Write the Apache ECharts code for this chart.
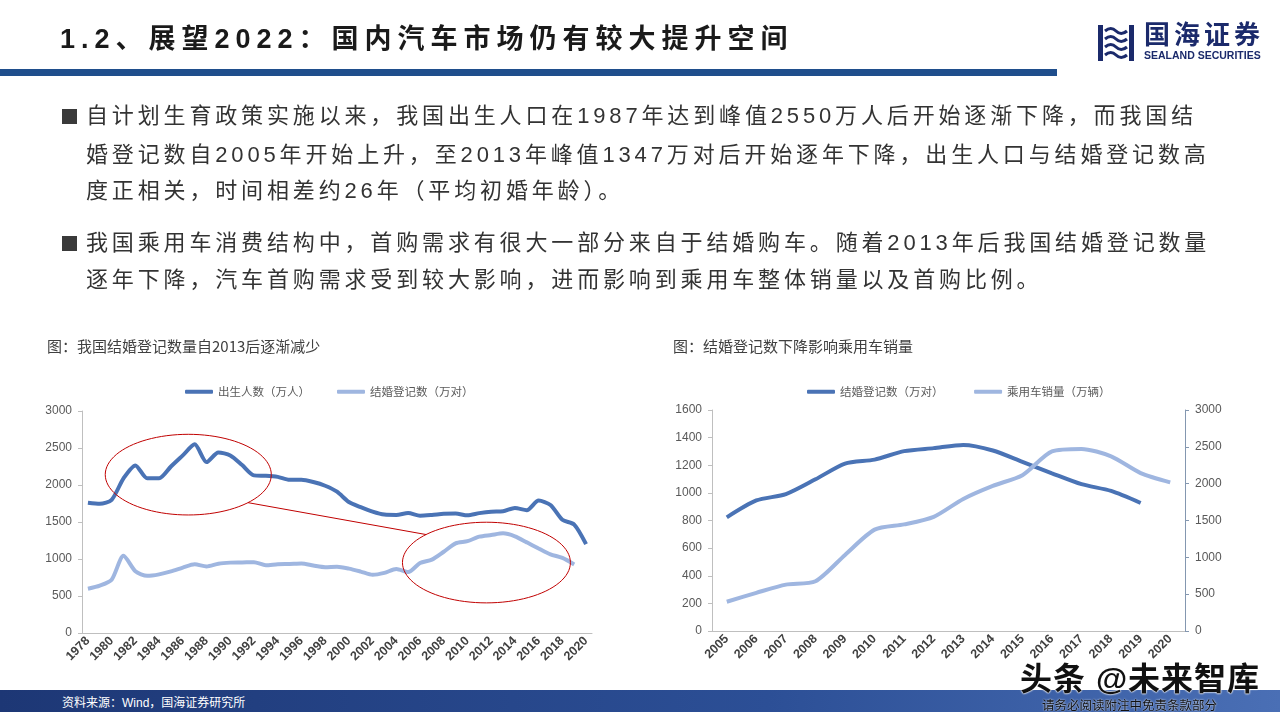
<!DOCTYPE html>
<html><head><meta charset="utf-8">
<script src="https://cdn.jsdelivr.net/npm/echarts@6/dist/echarts.min.js"></script>
<style>
html,body{margin:0;padding:0;width:1280px;height:720px;overflow:hidden;background:#fff;font-family:"Liberation Sans","Noto Sans CJK SC",sans-serif;}
#chart{position:absolute;left:0;top:0;width:1280px;height:720px;}
.abs{position:absolute;white-space:nowrap;}
.title{left:60px;top:26px;font-size:27px;line-height:27px;font-weight:bold;letter-spacing:6px;color:#1a1a1a;}
.bar{left:0;top:69px;width:1057px;height:7px;background:#1f4e8c;}
.bl{font-size:22px;line-height:22px;color:#333;letter-spacing:3.85px;left:86px;}
.sq{left:62px;width:15px;height:15px;background:#3a3a3a;}
.foot{left:0;top:690px;width:1280px;height:22px;background:linear-gradient(to right,#1d3775,#2c4f96 60%,#4a6fb5);}
.src{left:62px;top:697px;font-size:12px;line-height:12px;color:#fff;}
.wm{left:1020px;top:663px;font-size:32px;line-height:32px;font-weight:bold;letter-spacing:1px;color:#111;text-shadow:0 0 2px #fff,0 0 2px #fff,0 0 1px #fff;}
.wm2{left:1042px;top:700px;font-size:12.5px;line-height:13px;color:#111;text-shadow:0 0 2px #fff;}
.logo1{left:1144px;top:21px;font-size:26px;line-height:28px;font-weight:bold;color:#1b2a6b;letter-spacing:4px;}
.logo2{left:1144px;top:50px;font-size:10.5px;line-height:11px;font-weight:bold;color:#1b2a6b;}
</style></head><body>
<div id="chart"></div>
<div class="abs title">1.2、展望2022：国内汽车市场仍有较大提升空间</div>
<div class="abs bar"></div>
<svg class="abs" style="left:1096px;top:23px" width="40" height="40" viewBox="0 0 40 40">
  <rect x="2" y="2" width="5" height="36" fill="#1b2a6b"/>
  <rect x="33" y="2" width="5" height="36" fill="#1b2a6b"/>
  <path d="M9 8 Q15 3 20 8 T31 8" stroke="#1b2a6b" stroke-width="3" fill="none"/>
  <path d="M9 16 Q15 11 20 16 T31 16" stroke="#1b2a6b" stroke-width="3" fill="none"/>
  <path d="M9 24 Q15 19 20 24 T31 24" stroke="#1b2a6b" stroke-width="3" fill="none"/>
  <path d="M9 32 Q15 27 20 32 T31 32" stroke="#1b2a6b" stroke-width="3" fill="none"/>
</svg>
<div class="abs logo1">国海证券</div>
<div class="abs logo2">SEALAND SECURITIES</div>

<div class="abs sq" style="top:109px"></div>
<div class="abs bl" style="top:105px">自计划生育政策实施以来，我国出生人口在1987年达到峰值2550万人后开始逐渐下降，而我国结</div>
<div class="abs bl" style="top:144px">婚登记数自2005年开始上升，至2013年峰值1347万对后开始逐年下降，出生人口与结婚登记数高</div>
<div class="abs bl" style="top:180px">度正相关，时间相差约26年（平均初婚年龄）。</div>
<div class="abs sq" style="top:236px"></div>
<div class="abs bl" style="top:232px">我国乘用车消费结构中，首购需求有很大一部分来自于结婚购车。随着2013年后我国结婚登记数量</div>
<div class="abs bl" style="top:269px">逐年下降，汽车首购需求受到较大影响，进而影响到乘用车整体销量以及首购比例。</div>

<div class="abs foot"></div>
<div class="abs src">资料来源：Wind，国海证券研究所</div>
<div class="abs wm">头条 @未来智库</div>
<div class="abs wm2">请务必阅读附注中免责条款部分</div>

<script>
// ---- data ----
const years1 = ['1978','1979','1980','1981','1982','1983','1984','1985','1986','1987','1988','1989','1990','1991','1992','1993','1994','1995','1996','1997','1998','1999','2000','2001','2002','2003','2004','2005','2006','2007','2008','2009','2010','2011','2012','2013','2014','2015','2016','2017','2018','2019','2020'];
const births = [1760,1745,1800,2090,2265,2090,2090,2250,2400,2550,2310,2440,2400,2270,2130,2125,2110,2070,2070,2040,1990,1910,1770,1700,1640,1600,1595,1620,1585,1595,1610,1615,1590,1620,1640,1645,1690,1660,1790,1730,1530,1465,1200];
const marriages = [598,640,720,1043,835,772,792,832,884,928,900,937,951,953,957,915,929,932,938,912,890,895,870,830,786,812,865,823,945,991,1098,1212,1241,1302,1324,1347,1307,1225,1142,1063,1014,927];
const years2 = ['2005','2006','2007','2008','2009','2010','2011','2012','2013','2014','2015','2016','2017','2018','2019','2020'];
const marriages2 = [823,945,991,1098,1212,1241,1302,1324,1347,1307,1225,1142,1063,1014,927];
const carSales = [397,518,630,676,1033,1376,1447,1550,1793,1970,2115,2438,2472,2371,2144,2018];
const leftTicks = {min:0,max:3000,interval:500};
const rTicksL = {min:0,max:1600,interval:200};
const rTicksR = {min:0,max:3000,interval:500};

const DARK = '#4a73b5', LIGHT = '#9fb6e0';
const labelFont = {fontSize:12,color:'#595959',fontFamily:'Liberation Sans',formatter:v=>String(v)};
const xLab = {fontSize:12.5,fontWeight:'bold',color:'#404040',fontFamily:'Liberation Sans',rotate:45,margin:6};

const chart = echarts.init(document.getElementById('chart'), null, {renderer:'canvas'});
const option = {
  animation:false,
  title:[
    {text:'图：我国结婚登记数量自2013后逐渐减少',left:42,top:334,textStyle:{fontSize:15,fontWeight:'normal',color:'#404040',fontFamily:'Noto Sans CJK SC'}},
    {text:'图：结婚登记数下降影响乘用车销量',left:668,top:334,textStyle:{fontSize:15,fontWeight:'normal',color:'#404040',fontFamily:'Noto Sans CJK SC'}}
  ],
  legend:[
    {left:180,top:381,icon:'roundRect',itemWidth:28,itemHeight:4,itemGap:27,textStyle:{fontSize:11.5,color:'#595959',fontFamily:'Noto Sans CJK SC'},
     data:[{name:'出生人数（万人）',itemStyle:{color:DARK}},{name:'结婚登记数（万对）',itemStyle:{color:LIGHT}}]},
    {left:802,top:381,icon:'roundRect',itemWidth:28,itemHeight:4,itemGap:28,textStyle:{fontSize:11.5,color:'#595959',fontFamily:'Noto Sans CJK SC'},
     data:[{name:'结婚登记数（万对） ',itemStyle:{color:DARK}},{name:'乘用车销量（万辆）',itemStyle:{color:LIGHT}}]}
  ],
  grid:[
    {left:82,right:688,top:411,bottom:87,containLabel:false},
    {left:712,right:95,top:410,bottom:89,containLabel:false}
  ],
  xAxis:[
    {type:'category',gridIndex:0,data:years1,boundaryGap:true,
     axisLine:{lineStyle:{color:'#bfbfbf'}},axisTick:{interval:1,lineStyle:{color:'#bfbfbf'},length:4},
     axisLabel:Object.assign({interval:1},xLab)},
    {type:'category',gridIndex:1,data:years2,boundaryGap:true,
     axisLine:{lineStyle:{color:'#bfbfbf'}},axisTick:{interval:0,lineStyle:{color:'#bfbfbf'},length:4},
     axisLabel:Object.assign({interval:0},xLab)}
  ],
  yAxis:[
    Object.assign({type:'value',gridIndex:0,axisLine:{show:true,lineStyle:{color:'#bfbfbf'}},axisTick:{show:true,length:4,lineStyle:{color:'#bfbfbf'}},splitLine:{show:false},axisLabel:Object.assign({margin:10},labelFont)},leftTicks),
    Object.assign({type:'value',gridIndex:1,position:'left',axisLine:{show:true,lineStyle:{color:'#bfbfbf'}},axisTick:{show:true,length:4,lineStyle:{color:'#bfbfbf'}},splitLine:{show:false},axisLabel:Object.assign({margin:10},labelFont)},rTicksL),
    Object.assign({type:'value',gridIndex:1,position:'right',axisLine:{show:true,lineStyle:{color:'#8497b0'}},axisTick:{show:true,length:4,lineStyle:{color:'#8497b0'}},splitLine:{show:false},axisLabel:Object.assign({margin:10},labelFont)},rTicksR)
  ],
  series:[
    {name:'出生人数（万人）',type:'line',xAxisIndex:0,yAxisIndex:0,data:births,smooth:0.25,symbol:'none',lineStyle:{width:4,color:DARK},itemStyle:{color:DARK}},
    {name:'结婚登记数（万对）',type:'line',xAxisIndex:0,yAxisIndex:0,data:marriages,smooth:0.25,symbol:'none',lineStyle:{width:4,color:LIGHT},itemStyle:{color:LIGHT}},
    {name:'结婚登记数（万对） ',type:'line',xAxisIndex:1,yAxisIndex:1,data:marriages2,smooth:0.25,symbol:'none',lineStyle:{width:4,color:DARK},itemStyle:{color:DARK}},
    {name:'乘用车销量（万辆）',type:'line',xAxisIndex:1,yAxisIndex:2,data:carSales,smooth:0.25,symbol:'none',lineStyle:{width:4,color:LIGHT},itemStyle:{color:LIGHT}}
  ]
};
chart.setOption(option);

// ---- annotation ellipses placed through the axis scales ----
function P(cat,val){ return chart.convertToPixel({gridIndex:0},[cat,val]); }
const p0 = P(0,0), p1 = P(1,0);
const step = p1[0]-p0[0];
function ell(catC,valC,catR,valR){
  const c = P(0,valC); const cx = p0[0]+step*catC, cy = c[1];
  const rx = step*catR, ry = p0[1]-P(0,valR)[1];
  return {cx,cy,rx,ry};
}
const e1 = ell(8.46,2140,7.0,545);
const e2 = ell(33.6,952,7.08,545);
function ring(e){ const pts=[]; for(let k=0;k<96;k++){const a=k/96*Math.PI*2; pts.push([e.cx+e.rx*Math.cos(a), e.cy+e.ry*Math.sin(a)]);} return pts; }
const a1 = 44*Math.PI/180, a2 = 224*Math.PI/180;
chart.setOption({graphic:[
  {type:'polygon',shape:{points:ring(e1)},style:{fill:'none',stroke:'#c00000',lineWidth:1},z:10},
  {type:'polygon',shape:{points:ring(e2)},style:{fill:'none',stroke:'#c00000',lineWidth:1},z:10},
  {type:'line',shape:{x1:e1.cx+e1.rx*Math.cos(a1),y1:e1.cy+e1.ry*Math.sin(a1),x2:e2.cx+e2.rx*Math.cos(a2),y2:e2.cy+e2.ry*Math.sin(a2)},style:{stroke:'#c00000',lineWidth:1},z:10}
]});
</script>
</body></html>
